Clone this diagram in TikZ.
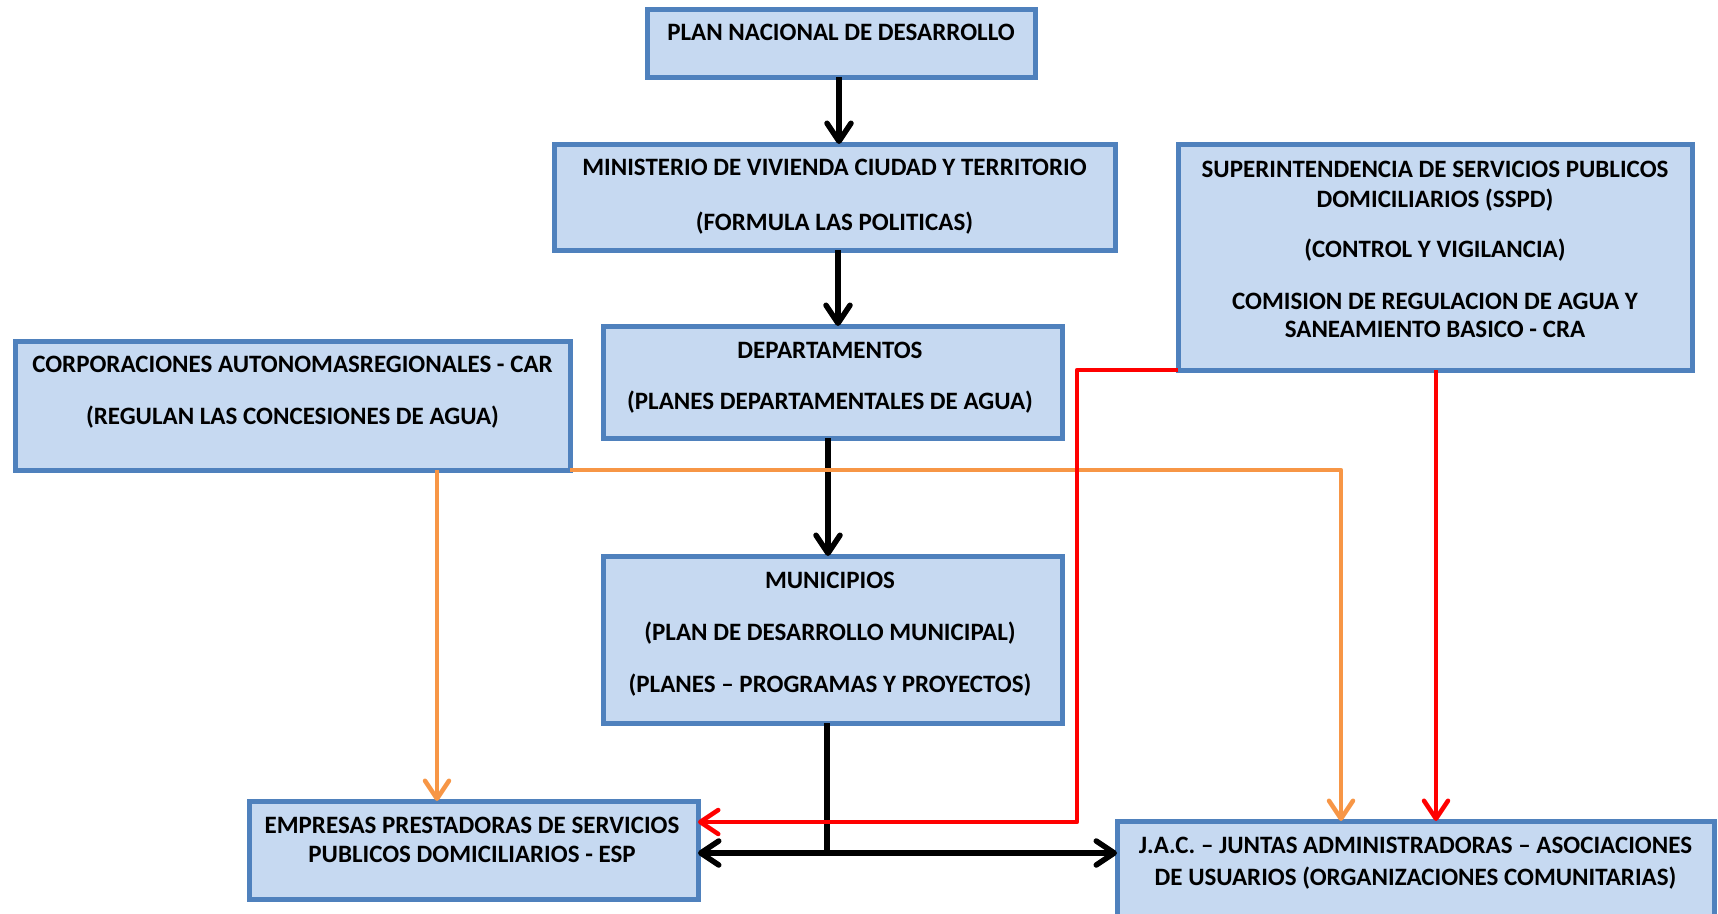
\documentclass[tikz,border=0pt]{standalone}
\usepackage{fontspec}
\setmainfont{Carlito}
\usetikzlibrary{arrows.meta}
\definecolor{boxfill}{HTML}{C6D9F1}
\definecolor{boxline}{HTML}{4F81BD}
\definecolor{orangeline}{HTML}{F79646}
\definecolor{redline}{HTML}{FF0000}
\tikzset{
  orgbox/.style={draw=boxline, fill=boxfill, line width=5pt, rectangle, inner sep=0pt, outer sep=0pt},
  txt/.style={anchor=base, inner sep=0pt, font=\fontsize{25}{30}\selectfont\bfseries, text=black},
  tip/.style={-{Straight Barb[length=18pt,width=24pt,round]}},
  blackconn/.style={draw=black, line width=5.5pt},
  redconn/.style={draw=redline, line width=4.5pt},
  orangeconn/.style={draw=orangeline, line width=4.5pt},
}
\begin{document}
\begin{tikzpicture}[x=1pt,y=-1pt]
\useasboundingbox (0,0) rectangle (1718,913);
\clip (0,0) rectangle (1718,913);
% boxes
\node[orgbox, minimum width=388pt, minimum height=68pt] (plan) at (841,43) {};
\node[orgbox, minimum width=561pt, minimum height=106pt] (min) at (834.5,197) {};
\node[orgbox, minimum width=514pt, minimum height=226pt] (sspd) at (1435,257) {};
\node[orgbox, minimum width=459pt, minimum height=112pt] (dept) at (832.5,382) {};
\node[orgbox, minimum width=555pt, minimum height=129pt] (car) at (292.5,405.5) {};
\node[orgbox, minimum width=459pt, minimum height=167pt] (muni) at (832.5,639.5) {};
\node[orgbox, minimum width=449pt, minimum height=98pt] (esp) at (473.5,850) {};
\node[orgbox, minimum width=597pt, minimum height=109pt] (jac) at (1415.5,875.5) {};
% texts
\node[txt] (plan-t1) at (841,40) {PLAN NACIONAL DE DESARROLLO};
\node[txt] (min-t1) at (834.5,175) {MINISTERIO DE VIVIENDA CIUDAD Y TERRITORIO};
\node[txt] (min-t2) at (834.5,230) {(FORMULA LAS POLITICAS)};
\node[txt] (sspd-t1) at (1435,177) {SUPERINTENDENCIA DE SERVICIOS PUBLICOS};
\node[txt] (sspd-t2) at (1435,207) {DOMICILIARIOS (SSPD)};
\node[txt] (sspd-t3) at (1435,257) {(CONTROL Y VIGILANCIA)};
\node[txt] (sspd-t4) at (1435,309) {COMISION DE REGULACION DE AGUA Y};
\node[txt] (sspd-t5) at (1435,337) {SANEAMIENTO BASICO - CRA};
\node[txt] (dept-t1) at (830,358) {DEPARTAMENTOS};
\node[txt] (dept-t2) at (830,409) {(PLANES DEPARTAMENTALES DE AGUA)};
\node[txt] (car-t1) at (292.5,372) {CORPORACIONES AUTONOMASREGIONALES - CAR};
\node[txt] (car-t2) at (292.5,424) {(REGULAN LAS CONCESIONES DE AGUA)};
\node[txt] (muni-t1) at (830,588) {MUNICIPIOS};
\node[txt] (muni-t2) at (830,640) {(PLAN DE DESARROLLO MUNICIPAL)};
\node[txt] (muni-t3) at (830,692) {(PLANES – PROGRAMAS Y PROYECTOS)};
\node[txt] (esp-t1) at (472,833) {EMPRESAS PRESTADORAS DE SERVICIOS};
\node[txt] (esp-t2) at (472,862) {PUBLICOS DOMICILIARIOS - ESP};
\node[txt] (jac-t1) at (1415.5,853) {J.A.C. – JUNTAS ADMINISTRADORAS – ASOCIACIONES};
\node[txt] (jac-t2) at (1415.5,885) {DE USUARIOS (ORGANIZACIONES COMUNITARIAS)};
% helper coordinates
\coordinate (a1) at (839,0);
\coordinate (a2) at (838,0);
\coordinate (a3) at (828,0);
\coordinate (junc) at (827,853);
\coordinate (r1) at (1077,822);
\coordinate (r2) at (1436,0);
\coordinate (o1) at (437,0);
\coordinate (o2) at (1341,0);
% black connectors
\draw[blackconn, tip] (a1 |- plan.south) -- (a1 |- min.north);
\draw[blackconn, tip] (a2 |- min.south) -- (a2 |- dept.north);
\draw[blackconn, tip] (a3 |- dept.south) -- (a3 |- muni.north);
\draw[blackconn] (junc |- muni.south) -- (junc);
\draw[blackconn, tip] (junc) -- (junc -| esp.east);
\draw[blackconn, tip] (junc) -- (junc -| jac.west);
% orange connectors
\draw[orangeconn, tip] (o1 |- car.south) -- (o1 |- esp.north);
\draw[orangeconn, tip, line join=round] (car.south east) -| (o2 |- jac.north);
% red connectors
\draw[redconn, tip, line join=round] (sspd.south west) -| (r1) -- (r1 -| esp.east);
\draw[redconn, tip] (r2 |- sspd.south) -- (r2 |- jac.north);
\end{tikzpicture}
\end{document}
